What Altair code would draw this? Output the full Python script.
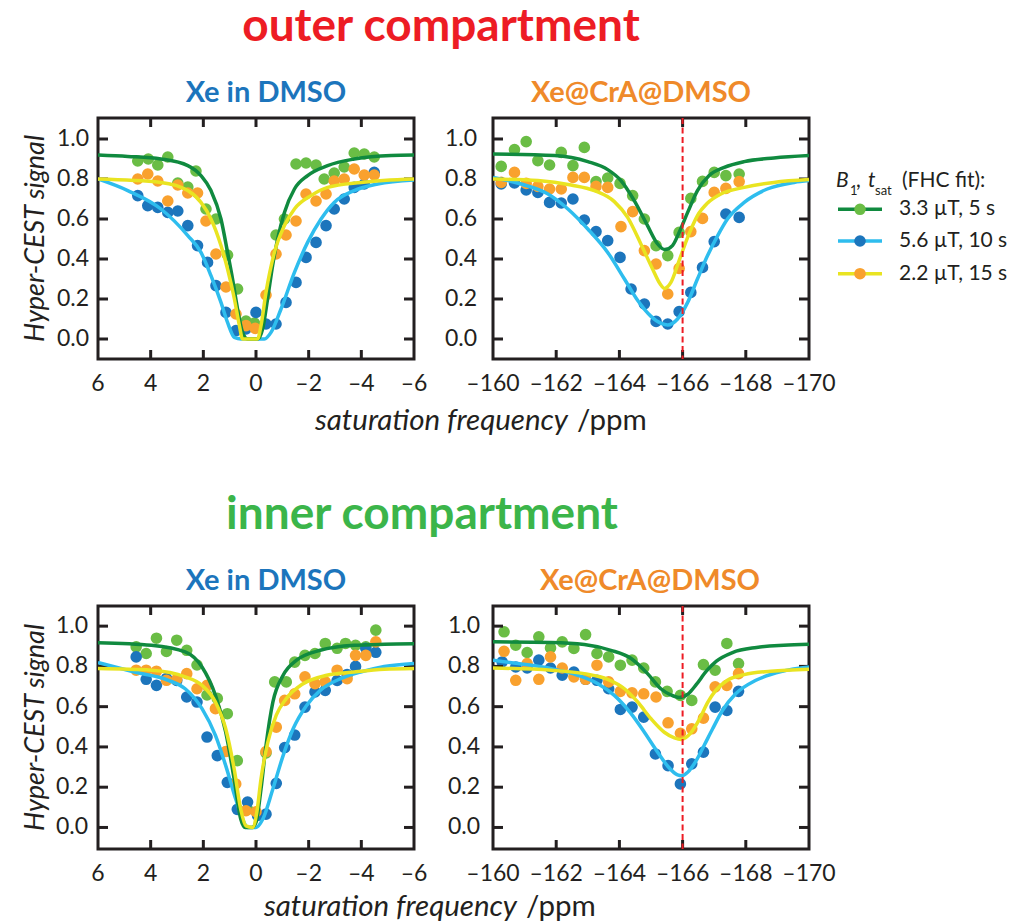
import altair as alt
import pandas as pd

# ---------------- data ----------------
# outer compartment, Xe in DMSO
TL_GREEN_PTS = [(4.49, 0.89), (4.09, 0.90), (3.73, 0.87), (3.35, 0.91), (2.97, 0.78), (2.59, 0.76),
                (2.28, 0.84), (1.90, 0.65), (1.52, 0.60), (1.08, 0.42), (0.70, 0.25), (0.38, 0.09),
                (0.06, 0.08), (-0.76, 0.52), (-1.08, 0.60), (-1.52, 0.875), (-1.90, 0.88), (-2.28, 0.87),
                (-2.59, 0.80), (-2.97, 0.83), (-3.35, 0.86), (-3.73, 0.93), (-4.11, 0.925), (-4.49, 0.91)]
TL_BLUE_PTS = [(4.49, 0.717), (4.11, 0.667), (3.73, 0.658), (3.35, 0.633), (2.97, 0.64), (2.59, 0.567),
               (2.22, 0.467), (1.84, 0.383), (1.52, 0.267), (1.14, 0.133), (0.76, 0.042), (0.38, 0.05),
               (0.0, 0.133), (-0.38, 0.075), (-0.76, 0.075), (-1.14, 0.183), (-1.52, 0.283), (-1.90, 0.408),
               (-2.28, 0.483), (-2.66, 0.567), (-2.97, 0.65), (-3.35, 0.70), (-3.73, 0.758), (-4.11, 0.775),
               (-4.49, 0.833)]
TL_ORANGE_PTS = [(4.49, 0.80), (4.11, 0.825), (3.73, 0.79), (3.35, 0.69), (2.97, 0.77), (2.59, 0.73),
                 (2.22, 0.73), (1.90, 0.59), (1.52, 0.425), (1.14, 0.26), (0.76, 0.125), (0.38, 0.067),
                 (0.03, 0.053), (-0.38, 0.22), (-0.76, 0.425), (-1.14, 0.52), (-1.52, 0.59), (-1.90, 0.725),
                 (-2.28, 0.69), (-2.66, 0.725), (-2.97, 0.79), (-3.35, 0.80), (-3.73, 0.85), (-4.11, 0.82),
                 (-4.49, 0.82)]
TL_GREEN_FIT = [(6.0, 0.92), (4.87, 0.913), (3.61, 0.90), (2.59, 0.867), (2.09, 0.817), (1.71, 0.742),
                (1.33, 0.60), (1.08, 0.433), (0.89, 0.30), (0.70, 0.15), (0.51, 0.033), (0.32, 0.0),
                (-0.06, 0.0), (-0.25, 0.05), (-0.44, 0.20), (-0.63, 0.367), (-0.82, 0.50), (-1.08, 0.633),
                (-1.46, 0.75), (-1.96, 0.817), (-2.72, 0.867), (-3.73, 0.90), (-5.13, 0.918), (-6.0, 0.92)]
TL_BLUE_FIT = [(6.0, 0.80), (4.87, 0.742), (3.61, 0.65), (2.59, 0.517), (2.09, 0.433), (1.71, 0.317),
               (1.33, 0.183), (1.08, 0.083), (0.82, 0.008), (0.57, 0.0), (-0.32, 0.0), (-0.57, 0.033),
               (-0.95, 0.15), (-1.46, 0.333), (-1.96, 0.483), (-2.47, 0.60), (-2.97, 0.683), (-3.73, 0.742),
               (-4.62, 0.775), (-6.0, 0.795)]
TL_ORANGE_FIT = [(6.0, 0.80), (3.61, 0.783), (2.59, 0.742), (2.09, 0.683), (1.71, 0.60), (1.33, 0.467),
                 (1.08, 0.35), (0.82, 0.20), (0.63, 0.067), (0.51, 0.0), (-0.06, 0.0), (-0.19, 0.067),
                 (-0.38, 0.233), (-0.70, 0.433), (-1.08, 0.567), (-1.46, 0.65), (-2.09, 0.717),
                 (-2.72, 0.758), (-3.99, 0.783), (-6.0, 0.80)]

# outer compartment, Xe@CrA@DMSO
TR_GREEN_PTS = [(-160.26, 0.863), (-160.68, 0.947), (-161.05, 0.987), (-161.42, 0.892), (-161.79, 0.87),
                (-162.16, 0.933), (-162.53, 0.867), (-162.89, 0.958), (-163.26, 0.787), (-163.63, 0.805),
                (-164.02, 0.778), (-164.42, 0.717), (-164.79, 0.60), (-165.16, 0.467), (-165.53, 0.417),
                (-165.89, 0.533), (-166.26, 0.703), (-166.63, 0.788), (-167.0, 0.833), (-167.37, 0.817),
                (-167.79, 0.825)]
TR_BLUE_PTS = [(-160.26, 0.775), (-160.68, 0.78), (-161.05, 0.745), (-161.42, 0.733), (-161.79, 0.683),
               (-162.16, 0.68), (-162.53, 0.70), (-162.89, 0.595), (-163.26, 0.537), (-163.63, 0.492),
               (-164.02, 0.408), (-164.37, 0.25), (-164.79, 0.175), (-165.16, 0.088), (-165.53, 0.075),
               (-165.89, 0.137), (-166.26, 0.233), (-166.63, 0.358), (-167.0, 0.487), (-167.37, 0.625),
               (-167.79, 0.608)]
TR_ORANGE_PTS = [(-160.26, 0.783), (-160.68, 0.833), (-161.05, 0.778), (-161.42, 0.763), (-161.79, 0.75),
                 (-162.16, 0.75), (-162.53, 0.808), (-162.89, 0.808), (-163.26, 0.763), (-163.63, 0.758),
                 (-164.05, 0.562), (-164.42, 0.637), (-164.79, 0.442), (-165.16, 0.375), (-165.53, 0.225),
                 (-165.89, 0.353), (-166.26, 0.537), (-166.63, 0.603), (-167.0, 0.733), (-167.37, 0.753),
                 (-167.79, 0.787)]
TR_GREEN_FIT = [(-160.0, 0.925), (-161.95, 0.917), (-163.0, 0.887), (-163.63, 0.847), (-164.05, 0.792),
                (-164.47, 0.692), (-164.89, 0.567), (-165.21, 0.475), (-165.44, 0.447), (-165.68, 0.467),
                (-165.89, 0.533), (-166.16, 0.633), (-166.47, 0.742), (-166.84, 0.817), (-167.32, 0.858),
                (-167.95, 0.887), (-168.89, 0.905), (-170.0, 0.917)]
TR_BLUE_FIT = [(-160.0, 0.808), (-160.89, 0.775), (-161.74, 0.725), (-162.37, 0.65), (-163.0, 0.55),
               (-163.63, 0.433), (-164.16, 0.30), (-164.58, 0.192), (-165.0, 0.113), (-165.32, 0.078),
               (-165.53, 0.07), (-165.84, 0.10), (-166.16, 0.183), (-166.47, 0.30), (-166.79, 0.417),
               (-167.11, 0.517), (-167.42, 0.60), (-167.95, 0.683), (-168.68, 0.75), (-169.53, 0.783),
               (-170.0, 0.792)]
TR_ORANGE_FIT = [(-160.0, 0.80), (-161.42, 0.792), (-162.47, 0.77), (-163.21, 0.742), (-163.84, 0.687),
                 (-164.26, 0.608), (-164.68, 0.475), (-165.05, 0.35), (-165.29, 0.275), (-165.42, 0.253),
                 (-165.63, 0.283), (-165.89, 0.392), (-166.16, 0.508), (-166.47, 0.617), (-166.79, 0.68),
                 (-167.21, 0.725), (-167.95, 0.758), (-168.89, 0.783), (-170.0, 0.797)]

# inner compartment, Xe in DMSO
BL_GREEN_PTS = [(4.55, 0.897), (4.17, 0.864), (3.78, 0.94), (3.40, 0.874), (3.01, 0.93), (2.63, 0.88),
                (2.24, 0.807), (1.86, 0.658), (1.47, 0.641), (1.09, 0.565), (0.71, 0.332), (0.32, 0.09),
                (-0.38, 0.37), (-0.71, 0.723), (-1.15, 0.723), (-1.47, 0.821), (-1.86, 0.855), (-2.24, 0.864),
                (-2.63, 0.914), (-3.08, 0.89), (-3.40, 0.914), (-3.78, 0.905), (-4.17, 0.897), (-4.55, 0.98)]
BL_BLUE_PTS = [(4.55, 0.847), (4.17, 0.736), (3.78, 0.706), (3.40, 0.74), (3.01, 0.73), (2.63, 0.648),
               (2.24, 0.623), (1.86, 0.449), (1.47, 0.357), (1.09, 0.224), (0.71, 0.09), (0.32, 0.126),
               (-0.06, 0.06), (-0.38, 0.066), (-0.77, 0.219), (-1.09, 0.397), (-1.47, 0.459), (-1.86, 0.598),
               (-2.24, 0.673), (-2.63, 0.681), (-3.08, 0.73), (-3.46, 0.76), (-3.78, 0.80), (-4.17, 0.89),
               (-4.55, 0.87)]
BL_ORANGE_PTS = [(4.55, 0.781), (4.17, 0.781), (3.78, 0.776), (3.40, 0.731), (3.01, 0.736), (2.63, 0.764),
                 (2.24, 0.689), (1.86, 0.706), (1.54, 0.59), (1.15, 0.377), (0.77, 0.216), (0.38, 0.083),
                 (0.0, 0.078), (-0.38, 0.377), (-0.77, 0.498), (-1.09, 0.631), (-1.47, 0.664), (-1.86, 0.748),
                 (-2.24, 0.714), (-2.63, 0.723), (-3.08, 0.781), (-3.46, 0.739), (-3.78, 0.855), (-4.17, 0.855),
                 (-4.55, 0.922)]
BL_GREEN_FIT = [(6.0, 0.918), (3.97, 0.905), (2.69, 0.872), (2.05, 0.797), (1.54, 0.656), (1.15, 0.473),
                (0.83, 0.241), (0.58, 0.042), (0.41, 0.0), (0.15, 0.0), (0.0, 0.025), (-0.19, 0.191),
                (-0.38, 0.407), (-0.64, 0.623), (-1.03, 0.756), (-1.54, 0.831), (-2.44, 0.88), (-3.72, 0.905),
                (-4.87, 0.91), (-6.0, 0.912)]
BL_BLUE_FIT = [(6.0, 0.819), (4.62, 0.772), (3.33, 0.731), (2.69, 0.689), (2.05, 0.59), (1.54, 0.457),
               (1.15, 0.307), (0.77, 0.141), (0.51, 0.042), (0.32, 0.0), (0.0, 0.0), (-0.26, 0.042),
               (-0.64, 0.191), (-1.03, 0.357), (-1.41, 0.49), (-1.92, 0.606), (-2.44, 0.681), (-3.21, 0.739),
               (-3.97, 0.772), (-4.87, 0.80), (-6.0, 0.815)]
BL_ORANGE_FIT = [(6.0, 0.789), (3.97, 0.781), (2.69, 0.748), (2.05, 0.706), (1.54, 0.623), (1.15, 0.49),
                 (0.83, 0.291), (0.58, 0.091), (0.38, 0.008), (0.13, 0.0), (-0.03, 0.075), (-0.19, 0.241),
                 (-0.45, 0.424), (-0.77, 0.558), (-1.15, 0.64), (-1.79, 0.714), (-2.69, 0.756),
                 (-3.72, 0.772), (-4.87, 0.786), (-6.0, 0.79)]

# inner compartment, Xe@CrA@DMSO
BR_GREEN_PTS = [(-160.35, 0.972), (-160.72, 0.905), (-161.08, 0.869), (-161.45, 0.947), (-161.82, 0.892),
                (-162.19, 0.922), (-162.56, 0.889), (-162.93, 0.958), (-163.29, 0.864), (-163.66, 0.847),
                (-164.03, 0.806), (-164.40, 0.831), (-164.77, 0.792), (-165.14, 0.723), (-165.51, 0.676),
                (-165.93, 0.656), (-166.29, 0.631), (-166.66, 0.809), (-167.03, 0.781), (-167.40, 0.914),
                (-167.77, 0.814)]
BR_BLUE_PTS = [(-160.29, 0.822), (-160.72, 0.797), (-161.08, 0.792), (-161.45, 0.831), (-161.82, 0.792),
               (-162.19, 0.756), (-162.56, 0.772), (-162.93, 0.736), (-163.29, 0.731), (-163.66, 0.689),
               (-164.03, 0.586), (-164.40, 0.598), (-164.77, 0.548), (-165.14, 0.365), (-165.54, 0.307),
               (-165.93, 0.216), (-166.29, 0.316), (-166.66, 0.374), (-167.03, 0.598), (-167.40, 0.581),
               (-167.77, 0.676)]
BR_ORANGE_PTS = [(-160.35, 0.875), (-160.72, 0.731), (-161.08, 0.814), (-161.45, 0.736), (-161.82, 0.847),
                 (-162.19, 0.792), (-162.56, 0.748), (-162.93, 0.736), (-163.29, 0.806), (-163.66, 0.723),
                 (-164.03, 0.676), (-164.40, 0.669), (-164.77, 0.664), (-165.16, 0.648), (-165.54, 0.52),
                 (-165.93, 0.468), (-166.29, 0.49), (-166.66, 0.543), (-167.03, 0.698), (-167.40, 0.706),
                 (-167.77, 0.764)]
BR_GREEN_FIT = [(-160.0, 0.922), (-161.84, 0.919), (-162.89, 0.909), (-163.73, 0.880), (-164.37, 0.839),
                (-164.89, 0.764), (-165.31, 0.689), (-165.62, 0.659), (-165.89, 0.646), (-166.18, 0.664),
                (-166.43, 0.709), (-166.75, 0.776), (-167.07, 0.826), (-167.58, 0.869), (-168.34, 0.894),
                (-169.2, 0.905), (-170.0, 0.91)]
BR_BLUE_FIT = [(-160.0, 0.83), (-160.79, 0.814), (-161.84, 0.789), (-162.68, 0.756), (-163.32, 0.714),
               (-163.84, 0.656), (-164.37, 0.565), (-164.79, 0.473), (-165.21, 0.374), (-165.53, 0.304),
               (-165.84, 0.261), (-165.98, 0.257), (-166.16, 0.274), (-166.43, 0.332), (-166.68, 0.407),
               (-166.95, 0.49), (-167.26, 0.581), (-167.68, 0.664), (-168.32, 0.731), (-169.16, 0.776),
               (-170.0, 0.797)]
BR_ORANGE_FIT = [(-160.0, 0.792), (-161.84, 0.781), (-162.89, 0.764), (-163.63, 0.736), (-164.16, 0.689),
                 (-164.58, 0.623), (-165.0, 0.54), (-165.42, 0.473), (-165.74, 0.445), (-165.95, 0.437),
                 (-166.26, 0.47), (-166.53, 0.537), (-166.79, 0.62), (-167.05, 0.681), (-167.42, 0.731),
                 (-167.95, 0.759), (-168.79, 0.776), (-170.0, 0.786)]

LEFT_X_LABELS = [6, 4, 2, 0, -2, -4, -6]
RIGHT_X_LABELS = [-160, -162, -164, -166, -168, -170]
LEFT_X_TICKS = [4, 2, 0, -2, -4]
RIGHT_X_TICKS = [-162, -164, -166, -168]
Y_TICKS = [0.0, 0.2, 0.4, 0.6, 0.8, 1.0]
MARKER_LINE = [-166]
LEGEND_LABELS = ["3.3 µT, 5 s", "5.6 µT, 10 s", "2.2 µT, 15 s"]

# ---------------- styles ----------------
FONT = "Lato"
INK = "#231f20"
PT_GREEN, PT_BLUE, PT_ORANGE = "#6abd45", "#1c75bc", "#f9a12e"
LN_GREEN, LN_BLUE, LN_ORANGE = "#108a3f", "#2ebdee", "#e9e421"
RED = "#ed1c24"
TITLE_GREEN = "#3bb54a"
TITLE_ORANGE = "#ef8a2a"
W = 316
H_TOP, H_BOT = 241, 243
PT_SIZE = 135


def df(pairs):
    return pd.DataFrame(pairs, columns=["x", "y"])


def txt(s, x, y, baseline="alphabetic", **style):
    return alt.Chart(pd.DataFrame({"t": [s]})).mark_text(font=FONT, baseline=baseline, **style).encode(
        x=alt.value(x), y=alt.value(y), text="t:N")


def xlabel(v):
    return ("\u2013" + str(abs(v))) if v < 0 else str(v)


def panel(pts, fits, xdom, xlabels, xticks, ydom, h, ytitle, ypad, marker=False, extra=()):
    xs = alt.Scale(domain=xdom, nice=False, zero=False)
    ys = alt.Scale(domain=ydom, nice=False, zero=False)
    X = lambda: alt.X("x:Q", scale=xs, axis=None)
    Y = lambda: alt.Y("y:Q", scale=ys, axis=None)

    layers = []
    for data, color in pts:
        layers.append(alt.Chart(df(data)).mark_circle(size=PT_SIZE, opacity=1, color=color).encode(x=X(), y=Y()))

    # inward ticks on all four sides
    xt = pd.DataFrame({"x": xticks})
    yt = pd.DataFrame({"y": Y_TICKS})
    tick = dict(color=INK, strokeWidth=3)
    layers.append(alt.Chart(xt).mark_rule(**tick).encode(x=X(), y=alt.value(h), y2=alt.value(h - 9)))
    layers.append(alt.Chart(xt).mark_rule(**tick).encode(x=X(), y=alt.value(0), y2=alt.value(9)))
    layers.append(alt.Chart(yt).mark_rule(**tick).encode(y=Y(), x=alt.value(0), x2=alt.value(10)))
    layers.append(alt.Chart(yt).mark_rule(**tick).encode(y=Y(), x=alt.value(W - 10), x2=alt.value(W)))

    # tick labels, positioned through the panel scales
    xl = pd.DataFrame({"x": xlabels, "lab": [xlabel(v) for v in xlabels]})
    yl = pd.DataFrame({"y": Y_TICKS, "lab": [f"{v:.1f}" for v in Y_TICKS]})
    layers.append(alt.Chart(xl).mark_text(font=FONT, fontSize=23, color=INK, align="center",
                                          baseline="alphabetic").encode(
        x=X(), y=alt.value(h + 32), text="lab:N"))
    layers.append(alt.Chart(yl).mark_text(font=FONT, fontSize=23, color=INK, align="right",
                                          baseline="middle").encode(
        y=Y(), x=alt.value(-ypad), text="lab:N"))
    if ytitle:
        layers.append(txt("Hyper-CEST signal", -62, h / 2, baseline="middle", angle=270, align="center",
                          fontSize=27, fontStyle="italic", color=INK))

    for data, color in fits:
        layers.append(alt.Chart(df(data)).mark_line(color=color, strokeWidth=3.5, interpolate="monotone",
                                                    clip=True).encode(x=X(), y=Y()))
    if marker:
        layers.append(alt.Chart(pd.DataFrame({"x": MARKER_LINE})).mark_rule(
            color=RED, strokeWidth=2, strokeDash=[6, 3.5]).encode(x=X()))
    layers.extend(extra)
    return alt.layer(*layers).properties(width=W, height=h)


LEFT_DOM = [6, -6]
RIGHT_DOM = [-160, -170]
TOP_YDOM = [-0.1, 1.105]
BOT_YDOM = [-0.107, 1.10]

head = dict(fontSize=46, fontWeight="bold", align="center")
sub = dict(fontSize=29, fontWeight="bold", align="center")
xt_it = dict(fontSize=29.5, fontStyle="italic", color=INK, align="right")
xt_up = dict(fontSize=29.5, color=INK, align="left")

# invisible anchor pinning the figure's top-left corner
anchor = alt.Chart(pd.DataFrame({"t": [0]})).mark_point(opacity=0, size=1).encode(
    x=alt.value(-96), y=alt.value(-116))

tl_extra = [anchor,
            txt("outer compartment", 343, -77, color=RED, **head),
            txt("Xe in DMSO", 168, -16, color=PT_BLUE, **sub),
            txt("saturation frequency", 470, 312, **xt_it),
            txt("/ppm", 479, 312, **xt_up)]
tr_extra = [txt("Xe@CrA@DMSO", 148, -16, color=TITLE_ORANGE, **sub)]
bl_extra = [txt("inner compartment", 324, -77, color=TITLE_GREEN, **head),
            txt("Xe in DMSO", 168, -16, color=PT_BLUE, **sub),
            txt("saturation frequency", 419, 310, **xt_it),
            txt("/ppm", 428, 310, **xt_up)]
br_extra = [txt("Xe@CrA@DMSO", 157, -16, color=TITLE_ORANGE, **sub)]

# legend (drawn to the right of the upper right panel)
LEG_ROWS = [91.3, 123.0, 155.7]
LEG_LINE = [LN_GREEN, LN_BLUE, LN_ORANGE]
LEG_DOT = [PT_GREEN, PT_BLUE, PT_ORANGE]
for i, lab in enumerate(LEGEND_LABELS):
    one = pd.DataFrame({"t": [lab]})
    tr_extra.append(alt.Chart(one).mark_rule(color=LEG_LINE[i], strokeWidth=3.5).encode(
        x=alt.value(345), x2=alt.value(389), y=alt.value(LEG_ROWS[i])))
    tr_extra.append(alt.Chart(one).mark_circle(color=LEG_DOT[i], size=PT_SIZE, opacity=1).encode(
        x=alt.value(367), y=alt.value(LEG_ROWS[i])))
    tr_extra.append(alt.Chart(one).mark_text(font=FONT, fontSize=21, color=INK, align="left",
                                             baseline="middle").encode(
        x=alt.value(406), y=alt.value(LEG_ROWS[i]), text="t:N"))
tr_extra += [txt("B", 343, 69, fontSize=21, fontStyle="italic", align="left", color=INK),
             txt("1", 357, 77, fontSize=13, align="left", color=INK),
             txt(",", 363, 69, fontSize=21, align="left", color=INK),
             txt("t", 375, 69, fontSize=21, fontStyle="italic", align="left", color=INK),
             txt("sat", 382, 77, fontSize=13, align="left", color=INK),
             txt("(FHC fit):", 409, 69, fontSize=21, align="left", color=INK)]

tl = panel([(TL_GREEN_PTS, PT_GREEN), (TL_BLUE_PTS, PT_BLUE), (TL_ORANGE_PTS, PT_ORANGE)],
           [(TL_BLUE_FIT, LN_BLUE), (TL_GREEN_FIT, LN_GREEN), (TL_ORANGE_FIT, LN_ORANGE)],
           LEFT_DOM, LEFT_X_LABELS, LEFT_X_TICKS, TOP_YDOM, H_TOP, True, 9, extra=tl_extra)
tr = panel([(TR_GREEN_PTS, PT_GREEN), (TR_BLUE_PTS, PT_BLUE), (TR_ORANGE_PTS, PT_ORANGE)],
           [(TR_BLUE_FIT, LN_BLUE), (TR_GREEN_FIT, LN_GREEN), (TR_ORANGE_FIT, LN_ORANGE)],
           RIGHT_DOM, RIGHT_X_LABELS, RIGHT_X_TICKS, TOP_YDOM, H_TOP, False, 16, marker=True, extra=tr_extra)
bl = panel([(BL_GREEN_PTS, PT_GREEN), (BL_BLUE_PTS, PT_BLUE), (BL_ORANGE_PTS, PT_ORANGE)],
           [(BL_BLUE_FIT, LN_BLUE), (BL_GREEN_FIT, LN_GREEN), (BL_ORANGE_FIT, LN_ORANGE)],
           LEFT_DOM, LEFT_X_LABELS, LEFT_X_TICKS, BOT_YDOM, H_BOT, True, 10, extra=bl_extra)
br = panel([(BR_GREEN_PTS, PT_GREEN), (BR_BLUE_PTS, PT_BLUE), (BR_ORANGE_PTS, PT_ORANGE)],
           [(BR_BLUE_FIT, LN_BLUE), (BR_GREEN_FIT, LN_GREEN), (BR_ORANGE_FIT, LN_ORANGE)],
           RIGHT_DOM, RIGHT_X_LABELS, RIGHT_X_TICKS, BOT_YDOM, H_BOT, False, 13, marker=True, extra=br_extra)

chart = alt.concat(tl, tr, bl, br, columns=2, spacing={"row": 247, "column": 79},
                   bounds="flush").configure_view(
    stroke=INK, strokeWidth=3).properties(
    padding={"left": 0, "top": 0, "right": 5, "bottom": 0}, background="white")

chart.save("out.html", embed_options={"renderer": "svg", "actions": False})
